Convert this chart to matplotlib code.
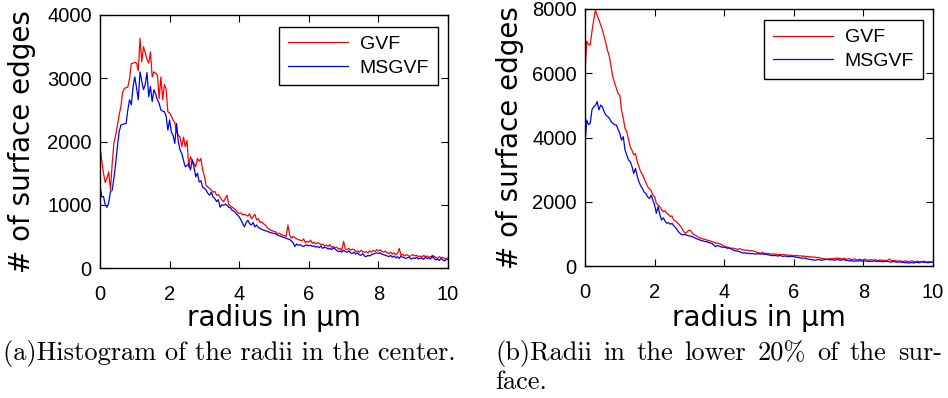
import numpy as np
import matplotlib
matplotlib.use('Agg')
import matplotlib.pyplot as plt

# radius bins (um), 0.05 steps
radius = np.arange(201) * 0.05

# (a) center
gvf_center = [
    1918, 1700, 1500, 1350, 1420, 1520, 1240, 1650, 1980, 2100, 2250, 2420, 2550, 2780, 2840, 2850, 2860, 3000, 3230, 3240,
    3250, 3240, 3120, 3630, 3260, 3500, 3400, 3300, 3240, 3420, 3020, 3100, 3080, 3050, 2680, 3020, 2660, 2900, 2830, 2470,
    2450, 2400, 2340, 2300, 2150, 2100, 2070, 1918, 2070, 1918, 2015, 1600, 1760, 1700, 1650, 1600, 1730, 1690, 1730, 1550,
    1450, 1300, 1280, 1260, 1230, 1200, 1210, 1150, 1160, 1120, 1080, 1050, 1100, 1150, 1000, 980, 960, 940, 920, 880,
    860, 870, 840, 850, 834, 820, 860, 780, 808, 850, 760, 780, 720, 730, 700, 680, 640, 620, 600, 590,
    580, 570, 540, 550, 530, 520, 510, 500, 680, 520, 470, 500, 480, 460, 450, 440, 430, 460, 400, 420,
    410, 440, 390, 410, 380, 400, 390, 370, 380, 350, 360, 340, 370, 330, 340, 320, 330, 300, 310, 280,
    420, 300, 290, 310, 280, 300, 290, 260, 270, 250, 280, 260, 250, 260, 240, 270, 250, 280, 260, 290,
    270, 290, 260, 250, 270, 240, 230, 250, 220, 240, 210, 230, 310, 200, 220, 190, 210, 200, 180, 200,
    210, 190, 200, 180, 190, 170, 200, 180, 190, 170, 180, 160, 190, 170, 150, 180, 160, 170, 150, 140,
    160]
msgvf_center = [
    1312, 1125, 1130, 1000, 960, 1030, 1210, 1230, 1420, 1650, 1918, 2150, 2260, 2270, 2280, 2285, 2500, 2660, 2580, 2870,
    3020, 2850, 2660, 3100, 2950, 2820, 2900, 3090, 2710, 2870, 2630, 2820, 2750, 2660, 2600, 2500, 2480, 2470, 2400, 2180,
    2340, 2150, 2100, 1970, 2285, 2000, 1865, 1812, 1700, 1600, 1620, 1650, 1550, 1710, 1600, 1440, 1500, 1360, 1380, 1280,
    1260, 1230, 1180, 1150, 1200, 1120, 1100, 1050, 1080, 960, 1000, 990, 1010, 990, 960, 950, 910, 900, 870, 840,
    808, 760, 700, 650, 720, 755, 700, 680, 720, 650, 680, 640, 620, 610, 600, 590, 580, 570, 560, 550,
    550, 540, 520, 510, 500, 490, 480, 470, 460, 450, 430, 400, 340, 380, 360, 370, 350, 340, 360, 365,
    350, 360, 340, 350, 330, 340, 320, 350, 310, 330, 320, 300, 310, 290, 320, 300, 280, 260, 270, 250,
    280, 260, 250, 270, 240, 230, 250, 220, 240, 210, 200, 230, 190, 180, 200, 190, 210, 220, 230, 240,
    230, 240, 220, 210, 200, 190, 180, 200, 170, 190, 160, 180, 150, 190, 170, 160, 150, 170, 160, 140,
    160, 150, 170, 140, 160, 150, 140, 170, 150, 160, 140, 200, 150, 130, 140, 120, 150, 130, 110, 140,
    130]

# (b) lower 20% of the surface
gvf_lower = [
    6050, 7000, 6900, 6880, 7300, 7660, 7970, 7800, 7660, 7500, 7350, 7150, 6930, 6700, 6515, 6200, 5890, 5700, 5530, 5370,
    5320, 4850, 4600, 4280, 4180, 3950, 3710, 3600, 3460, 3500, 3250, 3090, 2930, 2850, 2720, 2600, 2470, 2400, 2360, 2200,
    2160, 1950, 1900, 1850, 1750, 1690, 1720, 1640, 1600, 1540, 1560, 1430, 1400, 1350, 1300, 1230, 1150, 1050, 1020, 1080,
    1120, 1080, 1000, 970, 940, 900, 870, 860, 840, 830, 810, 790, 780, 760, 740, 720, 710, 700, 680, 650,
    620, 600, 580, 570, 550, 560, 540, 530, 520, 540, 510, 500, 490, 500, 480, 470, 480, 460, 450, 420,
    410, 400, 420, 390, 400, 380, 390, 370, 380, 360, 370, 350, 360, 350, 360, 340, 350, 330, 340, 320,
    330, 320, 330, 310, 320, 300, 310, 290, 300, 280, 290, 270, 280, 260, 270, 250, 240, 230, 220, 210,
    220, 230, 220, 240, 230, 250, 240, 230, 220, 240, 210, 220, 230, 200, 210, 220, 190, 200, 210, 190,
    200, 210, 190, 180, 200, 190, 180, 200, 170, 180, 190, 170, 180, 160, 180, 220, 170, 160, 170, 160,
    150, 160, 150, 140, 160, 150, 140, 150, 160, 140, 130, 150, 140, 130, 140, 150, 120, 130, 140, 120,
    120]
msgvf_lower = [
    3820, 4545, 4400, 4440, 4860, 4960, 5000, 5120, 4860, 5010, 4950, 4800, 4700, 4650, 4600, 4500, 4440, 4400, 4390, 4250,
    4130, 3920, 4025, 3610, 3450, 3300, 3250, 3100, 2880, 3040, 2800, 2620, 2500, 2410, 2300, 2260, 2150, 2100, 2200, 2050,
    1900, 1640, 1850, 1600, 1430, 1500, 1400, 1330, 1350, 1300, 1330, 1250, 1200, 1120, 1050, 1000, 970, 980, 970, 950,
    940, 920, 910, 880, 850, 830, 810, 790, 780, 760, 760, 730, 720, 700, 650, 600, 640, 620, 600, 580,
    590, 570, 550, 560, 530, 500, 480, 470, 460, 440, 420, 400, 410, 390, 400, 380, 390, 380, 370, 380,
    380, 370, 380, 360, 370, 350, 340, 330, 320, 330, 320, 310, 330, 310, 300, 310, 300, 290, 300, 300,
    290, 280, 270, 260, 250, 240, 250, 230, 220, 210, 200, 190, 180, 190, 200, 190, 180, 190, 200, 210,
    200, 190, 200, 180, 190, 200, 190, 180, 200, 190, 180, 170, 160, 170, 150, 160, 150, 160, 170, 150,
    150, 160, 150, 140, 150, 140, 160, 150, 140, 150, 140, 130, 140, 150, 140, 130, 120, 140, 130, 120,
    120, 130, 110, 120, 100, 110, 90, 100, 110, 90, 120, 110, 100, 120, 130, 110, 120, 100, 110, 120,
    120]

series_names = ['GVF', 'MSGVF']
xticks = [0, 2, 4, 6, 8, 10]
yticks_a = [0, 1000, 2000, 3000, 4000]
yticks_b = [0, 2000, 4000, 6000, 8000]
captions = ['(a)Histogram of the radii in the center.',
            '(b)Radii in the lower 20% of the sur-', 'face.']

W, H = 948, 398
fig = plt.figure(figsize=(W / 100, H / 100), dpi=100)


def px_axes(l, t, r, b):
    return fig.add_axes([l / W, 1 - b / H, (r - l) / W, (b - t) / H])


def style(ax, yticks, ymax):
    ax.set_xlim(0, 10)
    ax.set_ylim(0, ymax)
    ax.set_xticks(xticks)
    ax.set_yticks(yticks)
    ax.tick_params(direction='in', top=True, right=True, length=5, width=0.8,
                   labelsize=14.5)
    ax.tick_params(axis='x', pad=12)
    ax.tick_params(axis='y', pad=6)
    for lab in ax.get_xticklabels() + ax.get_yticklabels():
        lab.set_family('Liberation Sans')
    for s in ax.spines.values():
        s.set_linewidth(1.0)
    ax.set_xlabel('radius in µm', fontsize=20, family='DejaVu Sans', va='center')
    ax.set_ylabel('# of surface edges', fontsize=20, family='DejaVu Sans', va='center')


def add_legend(ax, anchor):
    leg = ax.legend(loc='upper right', bbox_to_anchor=anchor, borderaxespad=0,
                    fancybox=False, edgecolor='black', framealpha=1,
                    handlelength=3.1, handletextpad=0.6, labelspacing=0.3,
                    borderpad=0.45, prop={'family': 'Liberation Sans', 'size': 14})
    leg.get_frame().set_linewidth(1.0)


ax1 = px_axes(100, 15, 448, 268)
ax1.plot(radius, gvf_center, color='red', lw=0.9, label=series_names[0])
ax1.plot(radius, msgvf_center, color='blue', lw=0.9, label=series_names[1])
style(ax1, yticks_a, 4000)
ax1.xaxis.set_label_coords(0.5, (268 - 318) / 253)
ax1.yaxis.set_label_coords((22 - 100) / 348, 0.5)
add_legend(ax1, (0.971, 0.953))

ax2 = px_axes(585, 9, 933, 266)
ax2.plot(radius, gvf_lower, color='red', lw=0.9, label=series_names[0])
ax2.plot(radius, msgvf_lower, color='blue', lw=0.9, label=series_names[1])
style(ax2, yticks_b, 8000)
ax2.xaxis.set_label_coords(0.5, (266 - 318) / 257)
ax2.yaxis.set_label_coords((510 - 585) / 348, 0.5)
add_legend(ax2, (0.971, 0.957))

# captions (LaTeX-like, second one justified)
cap_font = ['cmr10', 'DejaVu Serif']
cap_size = 19
fig.text(3 / W, 1 - 360 / H, captions[0], fontsize=cap_size, family=cap_font, va='baseline')

renderer = fig.canvas.get_renderer()
words = captions[1].split(' ')
word_texts = [fig.text(0, 1 - 360 / H, w, fontsize=cap_size, family=cap_font, va='baseline')
              for w in words]
widths = [t.get_window_extent(renderer).width for t in word_texts]
x0, x1 = 495, 942
gap = (x1 - x0 - sum(widths)) / (len(words) - 1)
xpos = x0
for t, w in zip(word_texts, widths):
    t.set_x(xpos / W)
    xpos += w + gap
fig.text(x0 / W, 1 - 389 / H, captions[2], fontsize=cap_size, family=cap_font, va='baseline')

fig.savefig('out.png', dpi=100)
